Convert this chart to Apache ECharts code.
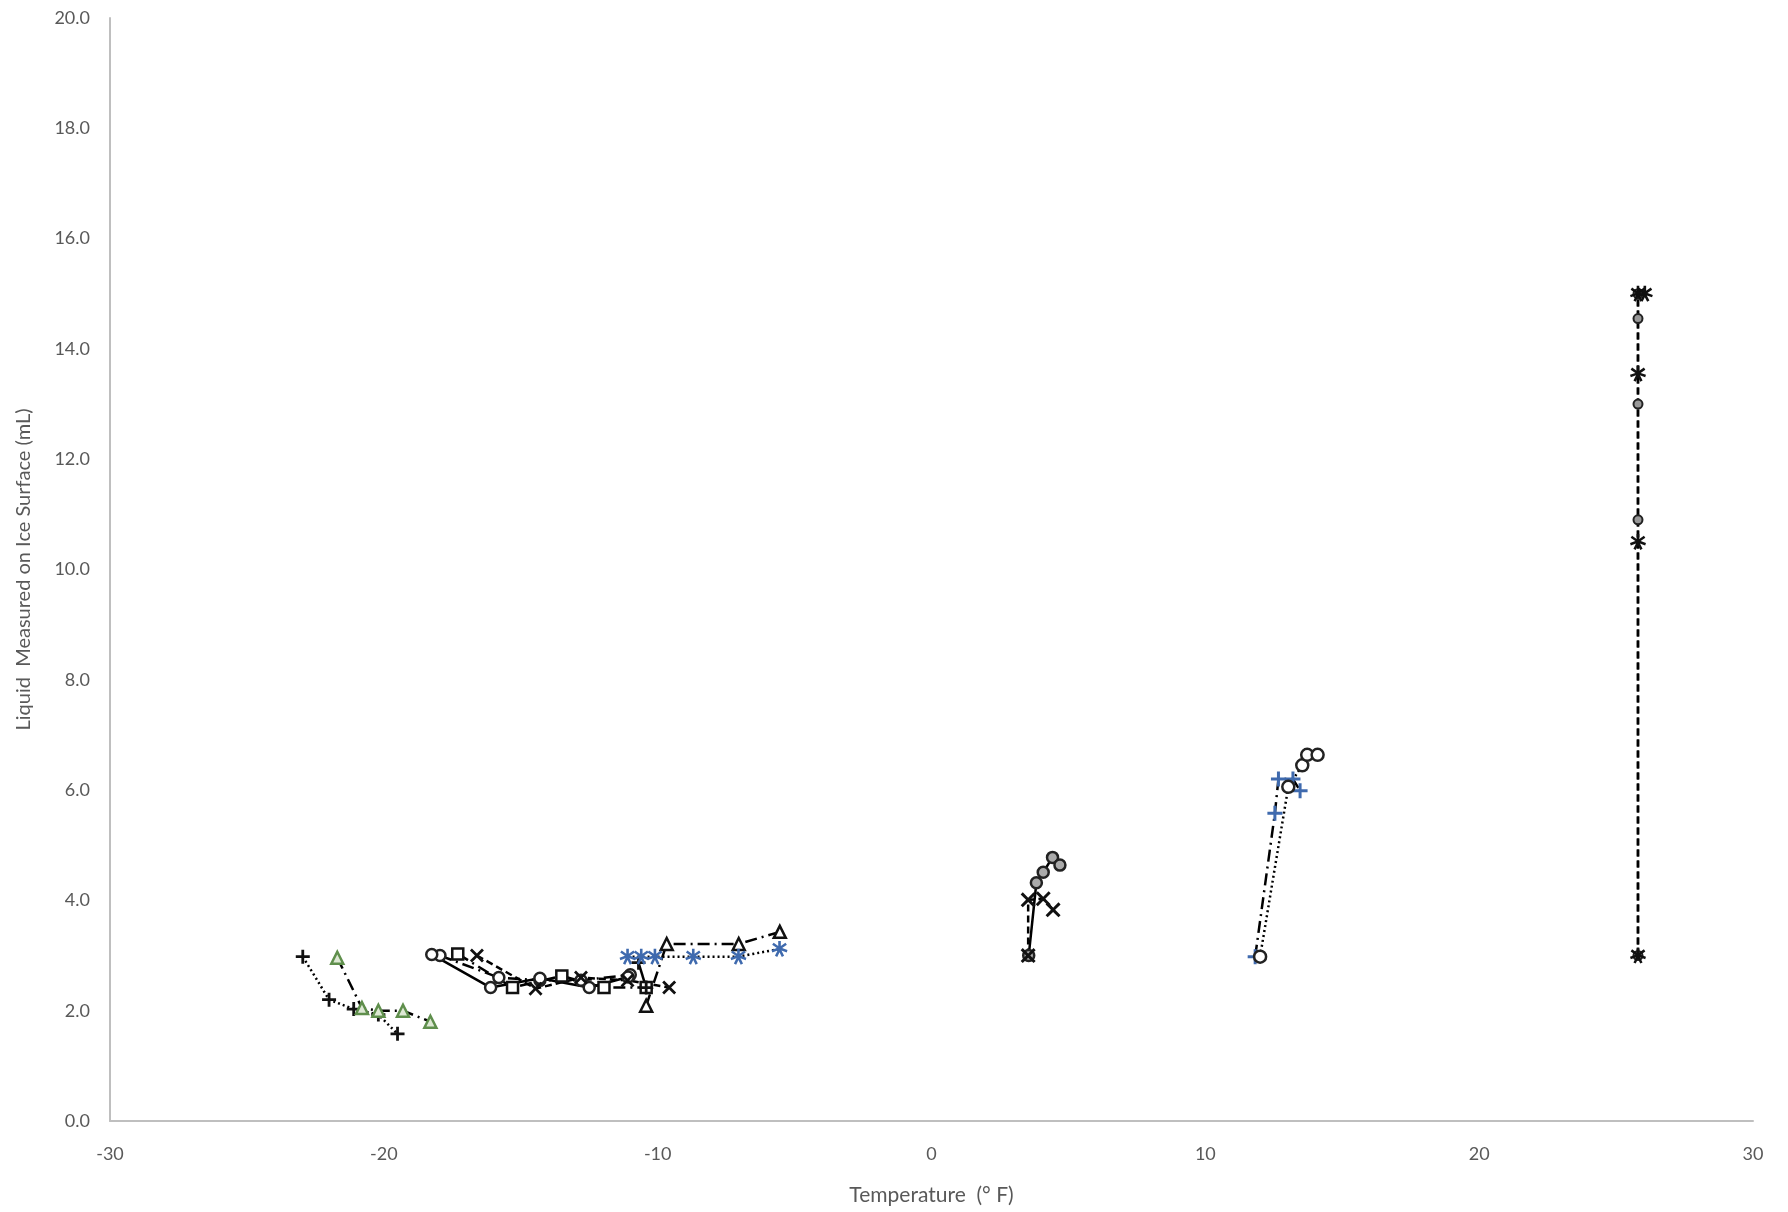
<!DOCTYPE html>
<html>
<head>
<meta charset="utf-8">
<script src="https://cdn.jsdelivr.net/npm/echarts@6/dist/echarts.min.js"></script>
<style>
html,body{margin:0;padding:0;background:#fff;}
#chart{width:1788px;height:1212px;}
</style>
</head>
<body>
<div id="chart"></div>
<script>
// ---- data (temperature °F, liquid mL) ----
const xTicks = [-30, -20, -10, 0, 10, 20, 30];
const yTicks = [0, 2, 4, 6, 8, 10, 12, 14, 16, 18, 20];

const plusDotted = [[-22.96, 2.98], [-22.0, 2.2], [-21.1, 2.03], [-20.2, 1.93], [-19.5, 1.58]];
const greenTriDashDot = [[-21.7, 2.96], [-20.8, 2.05], [-20.2, 2.0], [-19.3, 2.0], [-18.3, 1.8]];
const circleSolidA = [[-18.25, 3.02], [-16.1, 2.42], [-14.3, 2.59], [-12.5, 2.42], [-11.08, 2.61]];
const squareDashed = [[-17.3, 3.03], [-15.3, 2.42], [-13.5, 2.63], [-11.96, 2.42], [-10.42, 2.42]];
const xDashed = [[-16.6, 3.0], [-14.46, 2.4], [-12.8, 2.6], [-11.1, 2.55], [-9.58, 2.42]];
const circleDashDot = [[-17.95, 3.0], [-15.8, 2.6], [-14.3, 2.55], [-12.8, 2.55], [-11.0, 2.65]];
const plusSolid = [[-10.7, 2.87], [-10.42, 2.42]];
const triDashDot = [[-10.42, 2.09], [-9.67, 3.21], [-7.04, 3.21], [-5.54, 3.43]];
const blueStarDotted = [[-11.1, 2.98], [-10.6, 2.98], [-10.1, 2.98], [-8.7, 2.98], [-7.05, 2.98], [-5.55, 3.12]];
const circleSolidB = [[3.55, 3.0], [3.83, 4.32], [4.08, 4.51], [4.42, 4.78], [4.69, 4.64]];
const xDashedB = [[3.53, 3.0], [3.53, 4.01], [4.08, 4.03], [4.44, 3.83]];
const bluePlusDashDot = [[11.82, 2.98], [12.54, 5.58], [12.67, 6.2], [13.2, 6.2], [13.46, 5.99]];
const circleDotted = [[12.0, 2.98], [13.03, 6.06], [13.54, 6.45], [13.72, 6.64], [14.1, 6.64]];
const circleDashedC = [[25.8, 3.0], [25.8, 10.9], [25.8, 13.0], [25.8, 14.55], [25.8, 15.0]];
const starDashedC = [[25.8, 3.0], [25.8, 10.5], [25.8, 13.55], [25.8, 15.0], [26.05, 15.0]];

// ---- marker shapes ----
const PLUS = 'path://M4,0H6V4H10V6H6V10H4V6H0V4H4Z';
const CROSS = 'path://M1.4,0L5,3.6L8.6,0L10,1.4L6.4,5L10,8.6L8.6,10L5,6.4L1.4,10L0,8.6L3.6,5L0,1.4Z';
const STAR = 'path://M4.2,0H5.8V3.1L8.6,1.1L9.5,2.4L6.6,4.4L9.9,5.6L9.4,7.1L6.2,5.9L7.8,9.1L6.4,9.8L5,7L3.6,9.8L2.2,9.1L3.8,5.9L0.6,7.1L0.1,5.6L3.4,4.4L0.5,2.4L1.4,1.1L4.2,3.1Z';

const DOT = [2, 3];
const DASH = [7, 4];
const DASHDOT = [12, 5, 2, 5];

function mk(data, symbol, size, fill, border, bw, lineType, lineW) {
  return {
    type: 'line',
    data: data,
    symbol: symbol,
    symbolSize: size,
    showSymbol: true,
    animation: false,
    itemStyle: { color: fill, borderColor: border, borderWidth: bw },
    lineStyle: { color: '#000', width: lineW || 2.5, type: lineType },
    emphasis: { disabled: true }
  };
}

const series = [
  mk(plusDotted, PLUS, 14, '#111', '#111', 0, DOT),
  mk(greenTriDashDot, 'triangle', 12, '#dde8d4', '#5f8f4c', 2.5, DASHDOT),
  mk(circleDashDot, 'circle', 11, '#fff', '#222', 2.5, DASHDOT),
  mk(circleSolidA, 'circle', 11, '#fff', '#222', 2.5, 'solid'),
  mk(squareDashed, 'rect', 11, '#fff', '#111', 2.5, DASHDOT),
  mk(xDashed, CROSS, 14, '#111', '#111', 0, DASH),
  mk(plusSolid, PLUS, 14, '#111', '#111', 0, 'solid'),
  mk(triDashDot, 'triangle', 12, '#fff', '#111', 2.5, DASHDOT),
  mk(blueStarDotted, STAR, 16, '#3f6aae', '#3f6aae', 0, DOT),
  mk(circleSolidB, 'circle', 11, '#aaa', '#222', 2.5, 'solid'),
  mk(xDashedB, CROSS, 15, '#111', '#111', 0, DASH),
  mk(bluePlusDashDot, PLUS, 15, '#3f6aae', '#3f6aae', 0, DASHDOT),
  mk(circleDotted, 'circle', 12, '#fff', '#222', 2.5, DOT),
  mk(circleDashedC, 'circle', 9, '#999', '#222', 2, DASH),
  mk(starDashedC, STAR, 16, '#111', '#111', 0, DASH)
];

const chart = echarts.init(document.getElementById('chart'), null, { renderer: 'canvas' });
const FONT = 'Lato, "Open Sans", sans-serif';
chart.setOption({
  backgroundColor: '#fff',
  animation: false,
  grid: { left: 110, right: 35, top: 18, bottom: 91, containLabel: false },
  xAxis: {
    type: 'value',
    min: xTicks[0],
    max: xTicks[xTicks.length - 1],
    interval: 10,
    name: 'Temperature  (° F)',
    nameLocation: 'middle',
    nameGap: 64,
    nameTextStyle: { color: '#595959', fontSize: 21, fontFamily: FONT },
    axisLine: { show: true, onZero: false, lineStyle: { color: '#bfbfbf', width: 2 } },
    axisTick: { show: false },
    splitLine: { show: false },
    axisLabel: { color: '#595959', fontSize: 18, fontFamily: FONT, margin: 24 }
  },
  yAxis: {
    type: 'value',
    min: yTicks[0],
    max: yTicks[yTicks.length - 1],
    interval: 2,
    name: 'Liquid  Measured on Ice Surface (mL)',
    nameLocation: 'middle',
    nameGap: 76,
    nameRotate: 90,
    nameTextStyle: { color: '#595959', fontSize: 20, fontFamily: FONT },
    axisLine: { show: true, onZero: false, lineStyle: { color: '#bfbfbf', width: 2 } },
    axisTick: { show: false },
    splitLine: { show: false },
    axisLabel: { color: '#595959', fontSize: 18, fontFamily: FONT, margin: 20,
      formatter: v => v.toFixed(1) }
  },
  series: series
});
</script>
</body>
</html>
